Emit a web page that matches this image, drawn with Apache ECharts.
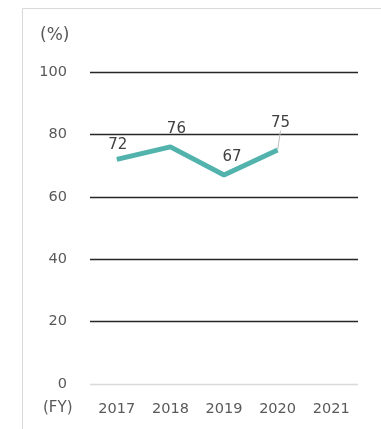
<!DOCTYPE html>
<html><head><meta charset="utf-8">
<script src="https://cdn.jsdelivr.net/npm/echarts@6/dist/echarts.min.js"></script>
<style>html,body{margin:0;padding:0;background:#fff}#c{width:381px;height:429px}</style>
</head><body><div id="c"></div>
<script>
const categories = ['2017','2018','2019','2020','2021'];
const values = [72, 76, 67, 75, null];
const yTicks = [0, 20, 40, 60, 80, 100];

const chart = echarts.init(document.getElementById('c'), null, {renderer:'canvas'});
const font = '"DejaVu Sans", sans-serif';
const seriesData = values.map((v, i) => ({
  value: v,
  labelLine: {show: i === 3}
}));
chart.setOption({
  animation: false,
  backgroundColor: '#fff',
  graphic: [
    {type:'rect', shape:{x:22.5, y:8.5, width:420, height:460}, style:{fill:'none', stroke:'#d9d9d9', lineWidth:1}},
    {type:'text', left:40, top:27, style:{text:'(%)', font:'17px ' + font, fill:'#595959'}},
    {type:'text', left:43, top:401, style:{text:'(FY)', font:'15px ' + font, fill:'#595959'}}
  ],
  grid: {left:90, right:23, top:72, bottom:45},
  xAxis: {
    type:'category', data: categories, boundaryGap:true,
    axisLine:{show:false}, axisTick:{show:false},
    axisLabel:{color:'#595959', fontSize:14.5, margin:18, fontFamily:font}
  },
  yAxis: {
    type:'value', min: yTicks[0], max: yTicks[yTicks.length-1], interval:20,
    axisLine:{show:false}, axisTick:{show:false},
    axisLabel:{color:'#595959', fontSize:14.5, margin:23, fontFamily:font},
    splitLine:{lineStyle:{color:['#d9d9d9','#262626','#262626','#262626','#262626','#262626'], width:1.3}}
  },
  series: [{
    type:'line', data: seriesData, symbol:'circle', symbolSize:1, showSymbol:true,
    itemStyle:{color:'rgba(0,0,0,0)', borderWidth:0},
    lineStyle:{color:'#52b3ad', width:5},
    label:{show:true, position:'top', distance:8, color:'#404040', fontSize:15, fontFamily:font},
    labelLine:{lineStyle:{color:'#bfbfbf', width:1}},
    labelLayout: function(p){
      if (p.dataIndex === 0) return {dx:1, dy:2};
      if (p.dataIndex === 1) return {dy:-2, dx:6};
      if (p.dataIndex === 2) return {dx:8, dy:-2};
      if (p.dataIndex === 3) return {dy:-11, dx:3};
      return {};
    }
  }]
});
</script></body></html>
